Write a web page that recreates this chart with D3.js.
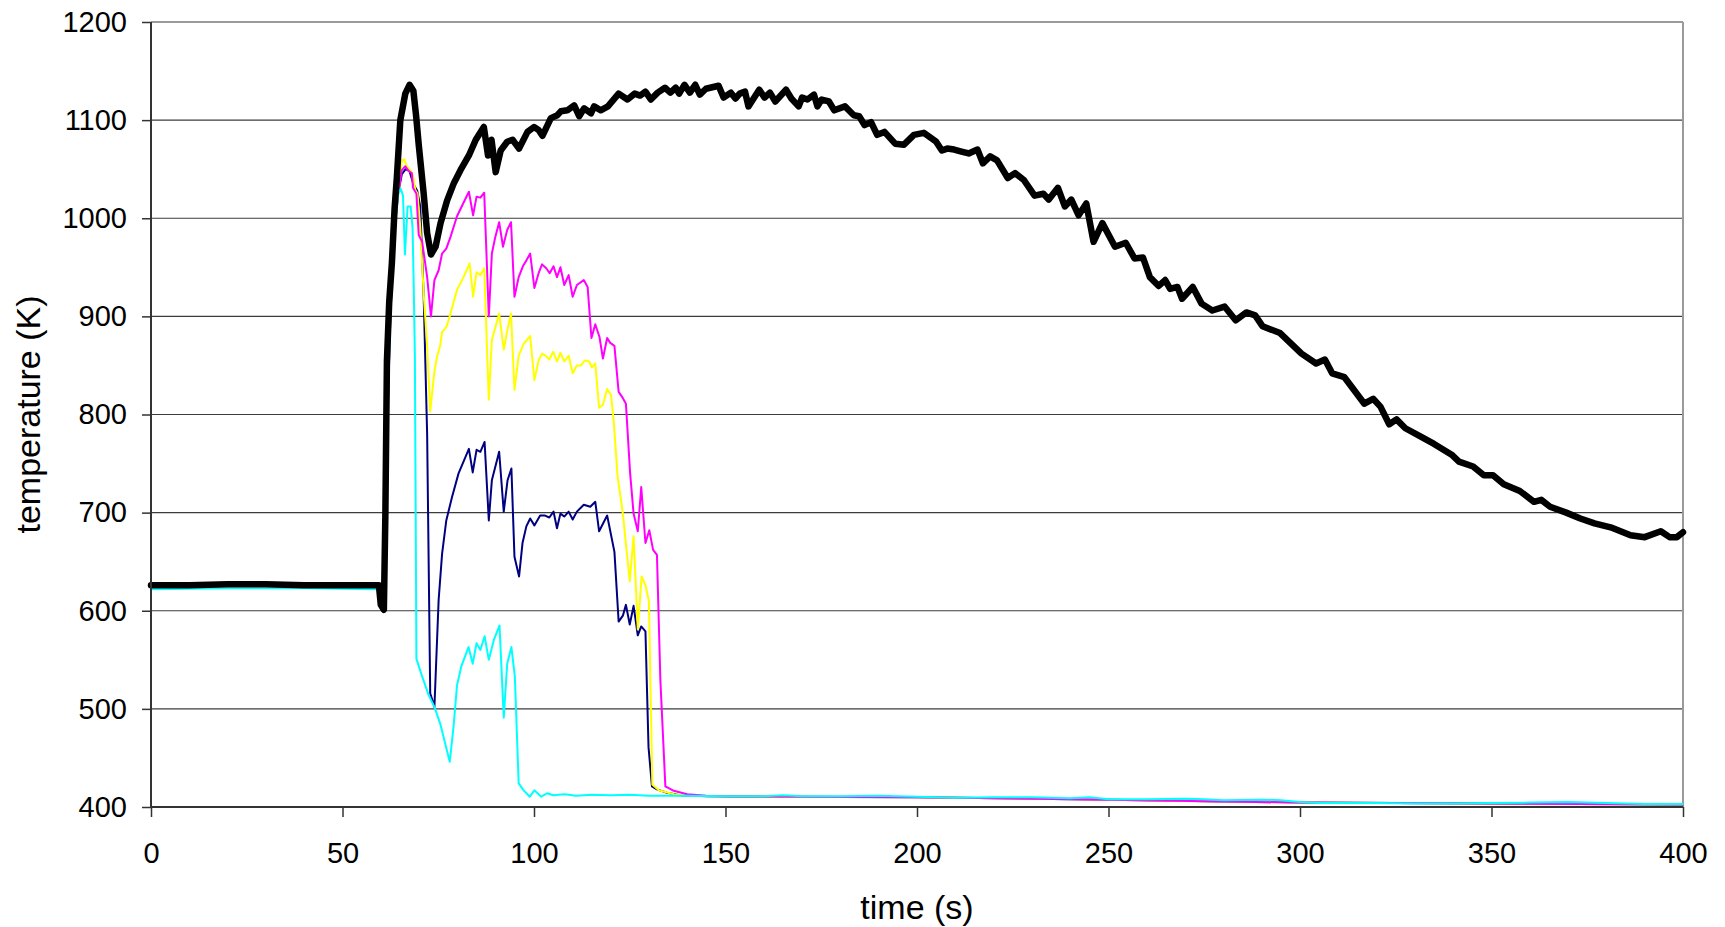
<!DOCTYPE html>
<html>
<head>
<meta charset="utf-8">
<script src="https://cdn.jsdelivr.net/npm/d3@7"></script>
<style>
  html, body { margin: 0; padding: 0; background: #fff; }
  svg { display: block; }
  text { font-family: "Liberation Sans", Arial, sans-serif; fill: #000; }
</style>
</head>
<body>
<svg id="chart" width="1725" height="927"></svg>
<script>
// ---- data (time in s, temperature in K) ----
const xTicks = [0, 50, 100, 150, 200, 250, 300, 350, 400];
const yTicks = [400, 500, 600, 700, 800, 900, 1000, 1100, 1200];

const seriesNavy = [[0,626],[20,627],[40,626],[59.5,626],[60,606],[61,601],[61.5,760],[62.5,905],[63.5,985],[64.5,1025],[65.5,1045],[66.5,1050],[67.5,1048],[68.5,1035],[69.5,1028],[70.3,1012],[71.2,920],[72.1,780],[72.9,516],[74,502],[75.1,611],[76,658],[77.1,692],[78.6,716],[80.3,740],[83,765],[84,741],[85,764],[86,762],[87.1,772],[88.2,692],[89,733],[90.9,762],[92.1,701],[93.1,733],[94.1,745],[94.9,655],[96.1,635],[97,669],[98,686],[99,694],[100.1,687],[101.6,697],[102.9,697],[104,695],[105.1,701],[106,684],[106.9,699],[107.9,696],[109.05,701],[110.1,693],[111.2,701],[113,708],[114.7,706],[116,711],[117,681],[119.1,697],[121,660],[122.1,589],[123.2,595],[124,606],[125,586],[126,605],[127.1,575],[128,584],[129.1,579],[129.9,461],[130.8,421],[132.1,418],[134.7,414.5],[138.2,412],[145.2,411],[160,410.5],[200,410],[250,407.5],[300,404.5],[350,403.5],[400,402.5]];

const seriesYellow = [[0,626],[20,627],[40,626],[59.5,626],[60,606],[61,601],[61.5,760],[62.5,905],[63.5,990],[64.7,1029],[65.5,1059],[66.1,1060],[66.8,1053],[67.7,1049],[68.4,1044],[69,1029],[69.6,1025],[70.3,991],[71.2,923],[72.1,870],[72.9,803],[74,844],[74.7,859],[75.5,870],[76,884],[77.1,889],[77.7,896],[79.9,927],[81.6,940],[83.2,954],[84.1,920],[85,945],[86,942],[87,949],[88.2,815],[89,876],[90.9,903],[92.1,866],[93.2,889],[94,903],[94.9,825],[96,860],[97.3,872],[99,880],[100.1,835],[101.2,855],[102.1,862],[103,860],[104,856],[105,864],[106,854],[106.9,863],[107.9,854],[109.05,860],[110.1,842],[111.2,850],[112.3,850],[113.2,855],[114.4,854],[115.1,848],[116,852],[117,807],[118,810],[119.1,826],[120.1,820],[120.8,794],[121.8,738],[123.2,699],[125,630],[126,676],[127.1,581],[128.1,635],[129.1,626],[130,610],[130.9,423],[132.6,417],[136.5,413],[141.7,411.5],[160,410.5],[200,410],[250,407.5],[300,404.5],[350,403.5],[400,402.5]];

const seriesMagenta = [[0,626],[20,627],[40,626],[59.5,626],[60,606],[61,601],[61.5,760],[62.5,900],[63.5,985],[64.5,1025],[65.5,1049],[66.4,1053],[67.3,1048],[68.1,1046],[68.4,1031],[69.3,1025],[69.9,983],[70.8,976],[72.1,940],[73.1,900],[74,937],[75.1,947],[76,964],[77.1,969],[78.2,981],[79.9,1002],[81.5,1015],[83,1027],[84.1,1003],[85,1022],[86,1021],[87,1026],[88.2,900],[89,964],[89.9,981],[90.9,996],[91.9,971],[93,988],[94,996],[94.9,920],[96,940],[97.1,951],[98,957],[99,964],[100.1,929],[101.2,944],[102.1,953],[103.2,949],[104.1,944],[105.1,951],[106,940],[106.9,950],[107.9,932],[109.05,942],[110.1,920],[111.2,932],[113,937],[114,930],[115,878],[116,892],[117.1,879],[118,857],[119.1,878],[119.9,873],[121,870],[122.1,823],[123,818],[124,811],[125.1,740],[126,699],[127.1,681],[128,726],[129.1,669],[130.1,682],[131.1,662],[132.1,657],[133,529],[134.3,421],[136.5,416.5],[140,413],[145,411.5],[150,411],[200,410],[250,407.5],[300,404.5],[350,403.5],[400,402.5]];

const seriesCyan = [[0,622],[20,623],[40,623],[59.5,622],[60,605],[61,600],[61.5,760],[62.5,900],[63.5,985],[64.6,1026],[65.2,1030],[65.8,1023],[66.3,963],[67,1012],[67.8,1012],[68.3,990],[68.6,930],[68.9,860],[69.3,551],[70.8,533],[72.5,514],[74,502],[75.5,485],[78,446],[79,482],[79.9,524],[81,543],[82.9,563],[84,546],[85,567],[86,560],[87.1,574],[88.2,550],[89.5,570],[91,585],[92.1,491],[93,546],[94.1,563],[95,533],[96,424],[97.3,417],[98.9,410.5],[100.1,417],[101.9,410.5],[103.4,414],[105,412],[108,413],[111,411.5],[115,412.5],[120,412],[125,412.5],[130,411.5],[140,411.5],[150,411],[160,411],[165,412],[170,411],[180,411],[190,411.5],[200,410.5],[210,409.5],[220,410],[230,410],[240,409],[245,410],[250,408],[260,408],[270,408.5],[275,408],[280,407],[290,407.5],[295,407],[300,405],[305,404],[320,404],[330,403.5],[340,403.5],[350,404],[360,404.5],[370,405],[380,404],[390,403],[400,403]];

const seriesBlack = [[0,626],[10,626],[20,627],[30,627],[40,626],[50,626],[59.5,626],[60,606],[60.8,601],[61.2,700],[61.6,855],[62.2,915],[62.9,955],[63.6,1010],[64.2,1042],[65.1,1100],[66.4,1127],[67.5,1136],[68.5,1130],[69.2,1105],[69.9,1075],[71.2,1025],[72.1,985],[73.1,963],[74.3,971],[75.6,995],[77.3,1018],[79.1,1036],[80.8,1049],[83,1064],[84.8,1080],[86.9,1093],[88,1064],[88.9,1080],[90,1047],[91.3,1069],[93,1078],[94.4,1080],[96.1,1071],[98.3,1088],[100,1093],[101.2,1090],[102.2,1084],[104.4,1102],[106.1,1105],[107,1109],[108.7,1110],[110.5,1115],[111.8,1104],[113.1,1112],[114.9,1107],[115.7,1114],[117.4,1110],[119.3,1114],[122.1,1127],[124.4,1121],[126.3,1127],[127.7,1125],[129.1,1129],[130.5,1121],[132.3,1128],[134.2,1133],[135.6,1128],[137,1133],[137.9,1127],[139.3,1136],[140.7,1128],[142.1,1136],[143.3,1126],[144.9,1132],[148.2,1135],[149.5,1123],[151.4,1128],[152.6,1122],[153.7,1127],[155.1,1129],[156,1114],[158.8,1131],[160.2,1123],[161.6,1128],[163,1119],[165.8,1131],[167.2,1122],[169.1,1114],[170,1123],[171.4,1121],[173.1,1126],[174,1114],[175.1,1121],[177,1119],[178.4,1110],[181.2,1114],[183.5,1105],[184.9,1104],[186.3,1095],[188,1098],[189.6,1085],[191.5,1088],[194.3,1076],[196.6,1075],[199.2,1085],[201.8,1087],[205,1078],[206.5,1069],[207.9,1071],[209.7,1070],[211.6,1068],[213.5,1066],[215.8,1070],[217.2,1056],[219.1,1063],[220.9,1059],[223.7,1041],[225.6,1046],[227.9,1039],[230.7,1023],[233,1025],[234.4,1019],[236.8,1031],[238.6,1012],[240.3,1019],[242.2,1003],[244.2,1015],[246.1,976],[248.4,995],[251.7,971],[254.5,975],[256.8,959],[259,960],[260.8,940],[263.1,931],[264.8,937],[266.1,928],[268,930],[269.2,918],[272,930],[274.3,913],[277.1,906],[280.3,910],[283.2,896],[286,904],[288.3,901],[290.2,890],[294.8,883],[300.4,862],[304.2,852],[306.5,856],[308.4,842],[311.6,838],[316.8,811],[319.1,816],[321,808],[323.3,790],[325.2,795],[327.5,786],[331.3,778],[335,770],[339.6,759],[341.5,752],[345.2,747],[348,738],[350.4,738],[353.2,729],[357.4,722],[361.1,711],[363,713],[365.3,706],[369.5,700],[373.2,694],[376.9,689],[381.1,685],[386.3,677],[390,675],[394.2,681],[396.5,675],[398.4,675],[400,680]];

const seriesList = [
  { name: "navy", data: seriesNavy },
  { name: "yellow", data: seriesYellow },
  { name: "magenta", data: seriesMagenta },
  { name: "cyan", data: seriesCyan },
  { name: "black", data: seriesBlack }
];
const colors = { navy: "#000080", yellow: "#FFFF00", magenta: "#FF00FF", cyan: "#00FFFF", black: "#000000" };
const widths = { navy: 2, yellow: 2, magenta: 2, cyan: 2, black: 6.5 };

// ---- layout ----
const L = 151, R = 1683, T = 22, B = 807;
const svg = d3.select("#chart");
const x = d3.scaleLinear().domain([0, 400]).range([L, R]);
const y = d3.scaleLinear().domain([400, 1200]).range([B, T]);

// gridlines
svg.append("g").selectAll("line").data(yTicks.filter(v => v > 400 && v < 1200)).join("line")
  .attr("x1", L).attr("x2", R).attr("y1", d => y(d)).attr("y2", d => y(d))
  .attr("stroke", "#3c3c3c").attr("stroke-width", 1.2);

// plot border (top & right)
svg.append("line").attr("x1", L).attr("x2", R).attr("y1", T).attr("y2", T).attr("stroke", "#9a9a9a").attr("stroke-width", 2);
svg.append("line").attr("x1", R).attr("x2", R).attr("y1", T).attr("y2", B).attr("stroke", "#9a9a9a").attr("stroke-width", 2);

// series
const line = d3.line().x(d => x(d[0])).y(d => y(d[1]));
svg.append("g").selectAll("path").data(seriesList).join("path")
  .attr("d", s => line(s.data))
  .attr("fill", "none")
  .attr("stroke", s => colors[s.name])
  .attr("stroke-width", s => widths[s.name])
  .attr("stroke-linejoin", "round")
  .attr("stroke-linecap", "round");

// axes
const yAxis = svg.append("g").attr("transform", `translate(${L},0)`)
  .call(d3.axisLeft(y).tickValues(yTicks).tickSize(9).tickPadding(15).tickFormat(d3.format("d")));
const xAxis = svg.append("g").attr("transform", `translate(0,${B})`)
  .call(d3.axisBottom(x).tickValues(xTicks).tickSize(10).tickPadding(25).tickFormat(d3.format("d")));
[yAxis, xAxis].forEach(g => {
  g.select(".domain").attr("stroke", "#333").attr("stroke-width", 2);
  g.selectAll(".tick line").attr("stroke", "#333").attr("stroke-width", 1.5);
  g.selectAll(".tick text").attr("font-size", 29).attr("font-family", "Liberation Sans, Arial, sans-serif").attr("fill", "#000");
});
yAxis.select(".domain").attr("d", `M0,${B}V${T}`);
xAxis.select(".domain").attr("d", `M${L},0H${R}`);

// axis titles
svg.append("text").attr("x", (L + R) / 2).attr("y", 907).attr("text-anchor", "middle")
  .attr("dominant-baseline", "central").attr("font-size", 34).text("time (s)");
svg.append("text").attr("transform", `translate(28,${(T + B) / 2}) rotate(-90)`).attr("text-anchor", "middle")
  .attr("dominant-baseline", "central").attr("font-size", 34).text("temperature (K)");
</script>
</body>
</html>
